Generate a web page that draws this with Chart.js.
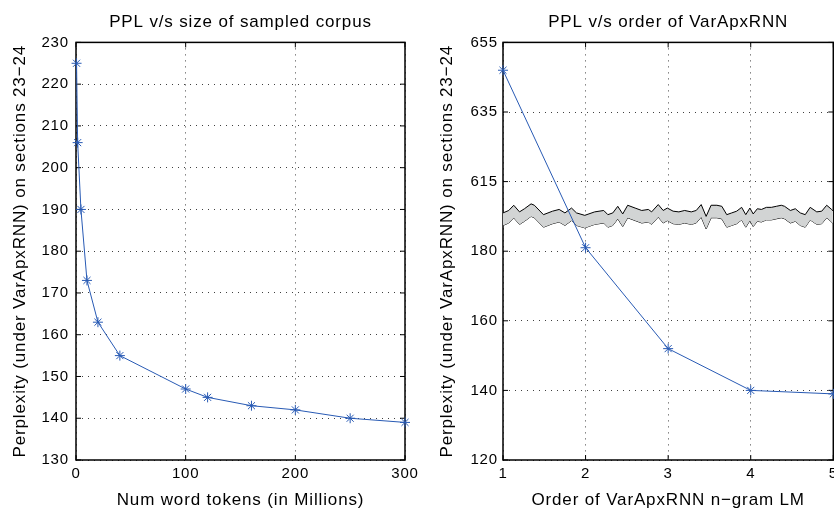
<!DOCTYPE html>
<html>
<head>
<meta charset="utf-8">
<script src="https://cdn.jsdelivr.net/npm/chart.js@4"></script>
<style>
body { margin: 0; width: 834px; height: 509px; overflow: hidden; background: #fff; position: relative; }
.box { position: absolute; top: 0; }
</style>
</head>
<body>
<div class="box" style="left:0px"><canvas id="chart_left" width="420" height="509"></canvas></div>
<div class="box" style="left:420px"><canvas id="chart_right" width="420" height="509"></canvas></div>
<script>
// ----------------------------------------------------------------------
//	PPL v/s size of sampled corpus  /  PPL v/s order of VarApxRNN
// ----------------------------------------------------------------------
const tokens = [0.5, 1.5, 4.5, 10, 20, 40, 100, 120, 160, 200, 250, 300]
const tokens_ppl = [225, 206, 190, 173, 163, 155, 147, 145, 143, 142, 140, 139]

const orders = [1, 2, 3, 4, 5]
const orders_ppl = [647, 181, 152, 140, 139]

// right axis is broken: values above the break are shifted down
const break_shift = 415
const right_ticks = [120, 140, 160, 180, 200, 220, 240]
const right_tick_labels = ['120', '140', '160', '180', '615', '635', '655']

// zigzag band marking the axis break
const band_x = [1.00,1.07,1.13,1.20,1.26,1.34,1.38,1.49,1.60,1.68,1.75,1.83,1.89,1.99,2.11,2.22,2.27,2.33,2.39,2.45,2.51,2.60,2.68,2.76,2.80,2.88,2.94,2.99,3.06,3.13,3.20,3.28,3.34,3.40,3.46,3.52,3.59,3.65,3.71,3.77,3.83,3.89,3.94,3.99,4.03,4.08,4.13,4.19,4.25,4.31,4.37,4.41,4.48,4.54,4.60,4.66,4.72,4.80,4.86,4.92,4.98,5.00]
const band_top = [191.0,191.7,193.2,191.3,192.2,193.6,193.2,190.5,191.5,192.0,191.0,192.4,191.0,190.3,191.3,191.7,190.5,191.0,192.9,190.7,193.2,192.4,191.7,192.0,191.3,193.4,191.7,192.4,191.5,191.3,191.7,191.3,191.7,193.4,190.0,193.2,193.2,192.9,190.5,191.0,191.5,192.6,190.5,192.4,190.7,192.2,192.0,192.6,192.6,192.9,193.2,192.9,191.7,192.2,191.0,190.5,192.6,191.3,191.5,193.2,192.0,191.5]
const band_bottom = [187.4,188.1,189.6,187.7,188.6,190.0,189.6,186.9,187.9,188.4,187.4,188.8,187.4,186.7,187.7,188.1,186.9,187.4,189.3,187.1,189.6,188.8,188.1,188.4,187.7,189.8,188.1,188.8,187.9,187.7,188.1,187.7,188.1,189.8,186.4,189.6,189.6,189.3,186.9,187.4,187.9,189.0,186.9,188.8,187.1,188.6,188.4,189.0,189.0,189.3,189.6,189.3,188.1,188.6,187.4,186.9,189.0,187.7,187.9,189.6,188.4,187.9]

const y_title = 'Perplexity (under VarApxRNN) on sections 23\u221224'

const font_family = '"Liberation Sans", Arial, Helvetica, sans-serif'
const line_color = 'rgb(40,90,180)'
const letter_gap = '0.85px'

Chart.defaults.font.family = font_family
Chart.defaults.color = '#000'

// ----------------------------------------------------------------------
// wider text spacing, like the original export
const spacing_plugin = {
	id: 'spacing',
	beforeLayout (chart) { chart.ctx.letterSpacing = letter_gap },
	beforeDraw (chart) { chart.ctx.letterSpacing = letter_gap }
}

// box frame with inward ticks, drawn under the data
const frame_plugin = {
	id: 'frame',
	beforeDatasetsDraw (chart)
	{
	const ctx = chart.ctx
	const a = chart.chartArea
	const sx = chart.scales.x
	const sy = chart.scales.y
	ctx.save()
	ctx.strokeStyle = '#000'
	ctx.lineWidth = 1
	ctx.beginPath()
	sx.ticks.forEach (function (t)
		{
		const px = sx.getPixelForValue(t.value)
		ctx.moveTo(px, a.bottom); ctx.lineTo(px, a.bottom - 5)
		ctx.moveTo(px, a.top); ctx.lineTo(px, a.top + 5)
		})
	sy.ticks.forEach (function (t)
		{
		const py = sy.getPixelForValue(t.value)
		ctx.moveTo(a.left, py); ctx.lineTo(a.left + 5, py)
		ctx.moveTo(a.right, py); ctx.lineTo(a.right - 5, py)
		})
	ctx.stroke()
	ctx.lineWidth = 1.5
	ctx.strokeRect(a.left, a.top, a.right - a.left, a.bottom - a.top)
	ctx.restore()
	}
}

// ----------------------------------------------------------------------
function to_points (xs, ys)
{
	const points = []
	for (let it = 0; it < xs.length; it++)
		{
		points.push({x: xs[it], y: ys[it]})
		}
	return points
}

function to_axis (v)
{
	return (v > 600) ? v - break_shift : v
}

// ----------------------------------------------------------------------
function title_opts (text)
{
	return {display: true, text: text, color: '#000', fullSize: false,
		font: {size: 17, weight: 'normal', lineHeight: 1.2},
		padding: {top: 12, bottom: 10}}
}

function axis_title (text, pad)
{
	return {display: true, text: text, color: '#000',
		font: {size: 17, lineHeight: 1},
		padding: {top: pad, bottom: 0}}
}

const grid_opts = {color: 'rgba(0,0,0,0.75)', lineWidth: 1, drawTicks: false}
const border_opts = {display: false, dash: [1, 5]}
const tick_font = {size: 15}

function fit_x (s)
{
	s.height = 49
	s.paddingLeft = 0
	s.paddingRight = 0
}

function line_dataset (points)
{
	return {
		data: points,
		borderColor: line_color,
		backgroundColor: line_color,
		borderWidth: 1,
		pointStyle: 'star',
		pointRadius: 5,
		pointBorderWidth: 1,
		pointBorderColor: line_color,
		tension: 0,
		clip: false
		}
}

// ----------------------------------------------------------------------
function draw_left ()
{
	const config = {
		type: 'line',
		data: {datasets: [line_dataset(to_points(tokens, tokens_ppl))]},
		options: {
			responsive: false,
			animation: false,
			layout: {padding: {left: 0, right: 15, top: 0, bottom: 0}},
			plugins: {
				legend: {display: false},
				tooltip: {enabled: false},
				title: title_opts('PPL v/s size of sampled corpus')
				},
			scales: {
				x: {type: 'linear', min: 0, max: 300,
					ticks: {stepSize: 100, padding: 5, maxRotation: 0, font: tick_font},
					grid: grid_opts, border: border_opts,
					title: axis_title('Num word tokens (in Millions)', 0),
					afterFit: fit_x
					},
				y: {type: 'linear', min: 130, max: 230,
					ticks: {stepSize: 10, padding: 7, font: tick_font},
					grid: grid_opts, border: border_opts,
					title: axis_title(y_title, 12),
					afterFit: function (s) { s.width = 76 }
					}
				}
			},
		plugins: [spacing_plugin, frame_plugin]
		}
	new Chart(document.getElementById('chart_left'), config)
}

// ----------------------------------------------------------------------
function draw_right ()
{
	const band_top_set = {
		data: to_points(band_x, band_top),
		borderColor: '#000', borderWidth: 1,
		backgroundColor: 'rgb(210,212,212)',
		pointRadius: 0, tension: 0, fill: '+1', clip: 2
		}
	const band_bottom_set = {
		data: to_points(band_x, band_bottom),
		borderColor: '#000', borderWidth: 1,
		pointRadius: 0, tension: 0, fill: false, clip: 2
		}
	const main_set = line_dataset(to_points(orders, orders_ppl.map(to_axis)))

	const config = {
		type: 'line',
		data: {datasets: [main_set, band_top_set, band_bottom_set]},
		options: {
			responsive: false,
			animation: false,
			layout: {padding: {left: 0, right: 6.7, top: 0, bottom: 0}},
			plugins: {
				legend: {display: false},
				tooltip: {enabled: false},
				title: title_opts('PPL v/s order of VarApxRNN')
				},
			scales: {
				x: {type: 'linear', min: 1, max: 5,
					ticks: {stepSize: 1, padding: 5, maxRotation: 0, font: tick_font},
					grid: grid_opts, border: border_opts,
					title: axis_title('Order of VarApxRNN n\u2212gram LM', 0),
					afterFit: fit_x
					},
				y: {type: 'linear', min: 120, max: 240,
					ticks: {stepSize: 20, padding: 5, font: tick_font,
						callback: function (value)
							{
							const i = right_ticks.indexOf(value)
							return (i >= 0) ? right_tick_labels[i] : ''
							}
						},
					grid: grid_opts, border: border_opts,
					title: axis_title(y_title, 19),
					afterFit: function (s) { s.width = 83 }
					}
				}
			},
		plugins: [spacing_plugin, frame_plugin]
		}
	new Chart(document.getElementById('chart_right'), config)
}

// ----------------------------------------------------------------------
draw_left()
draw_right()
</script>
</body>
</html>
